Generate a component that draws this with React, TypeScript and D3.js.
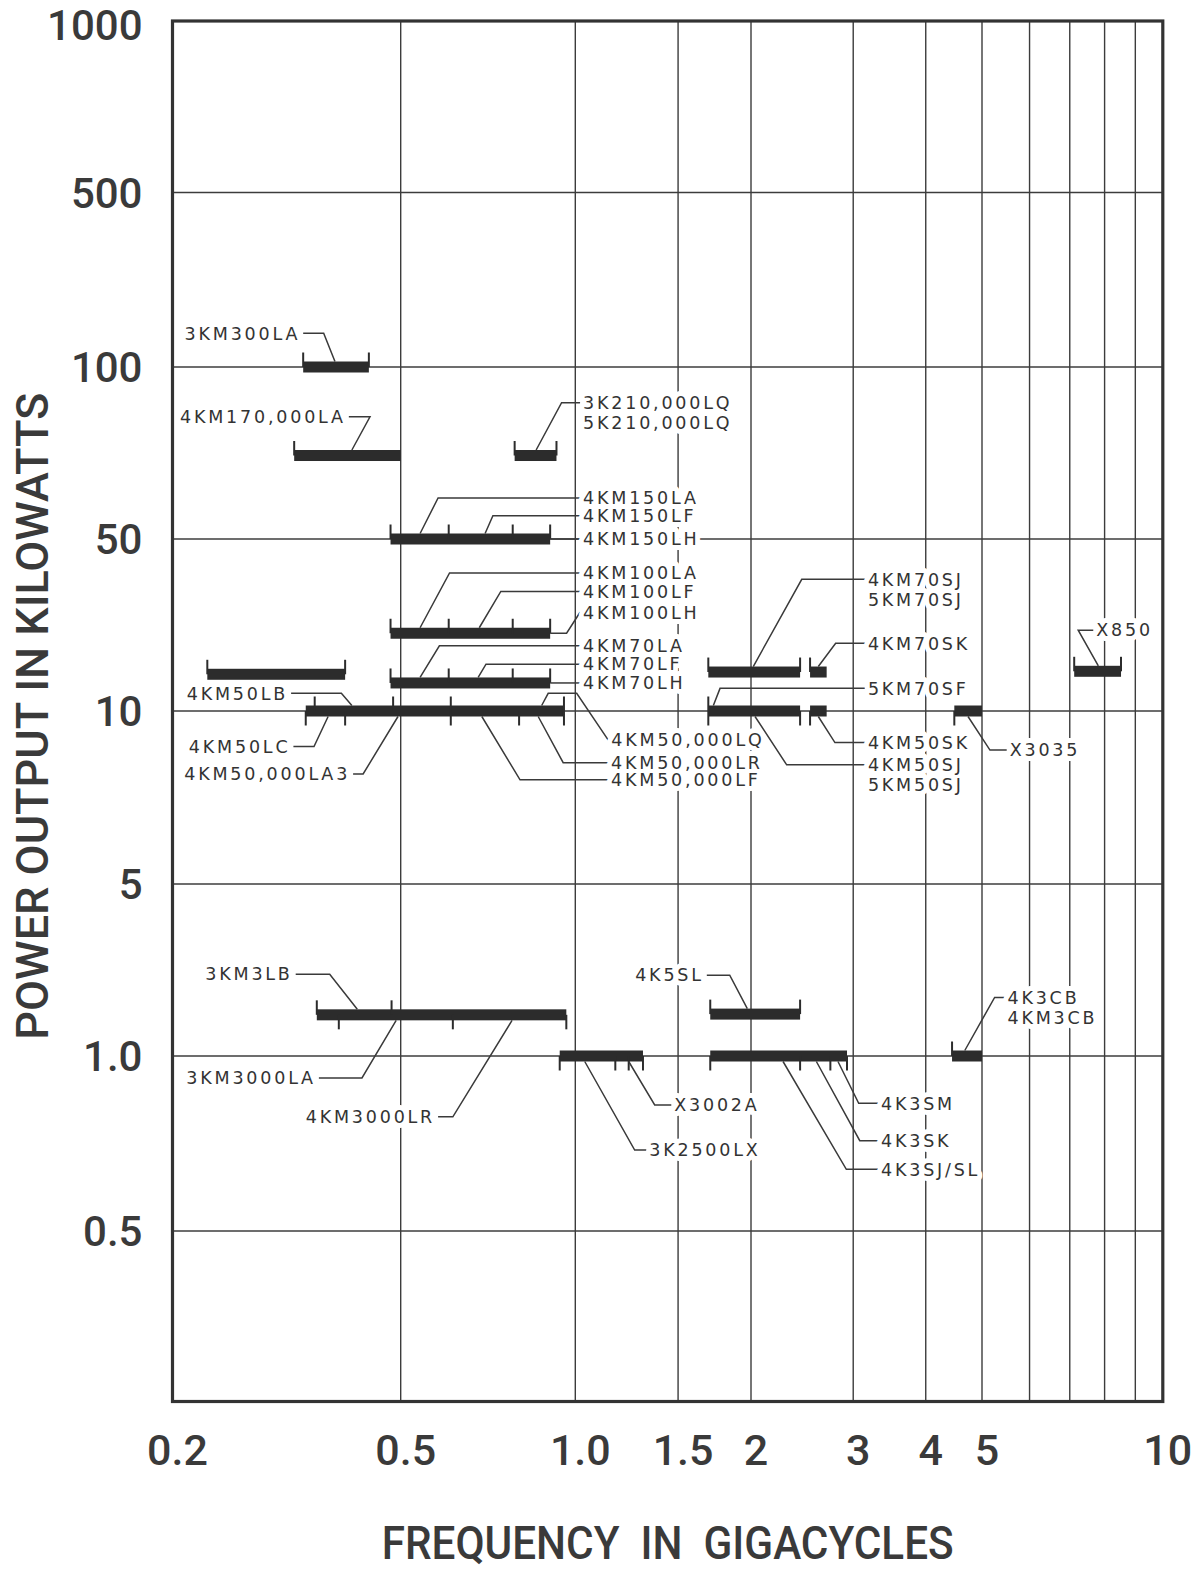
import React from 'react';
import * as d3 from 'd3';

// ---------- data ----------
const xDomain = [0.2, 0.5, 1, 2, 5, 10];
const yDomain = [0.1, 0.5, 1, 5, 10, 50, 100, 500, 1000];

const xGridValues = [0.5, 1, 1.5, 2, 3, 4, 5, 6, 7, 8, 9];
const yGridValues = [500, 100, 50, 10, 5, 1, 0.5];
const xTickValues = [0.2, 0.5, 1, 1.5, 2, 3, 4, 5, 10];
const xTickLabels = ['0.2', '0.5', '1.0', '1.5', '2', '3', '4', '5', '10'];
const yTickValues = [1000, 500, 100, 50, 10, 5, 1, 0.5];
const yTickLabels = ['1000', '500', '100', '50', '10', '5', '1.0', '0.5'];

const xTitle = 'FREQUENCY  IN  GIGACYCLES';
const yTitle = 'POWER OUTPUT IN KILOWATTS';

// tube bands: frequency range (GHz), power (kW), sub-range tick marks
const bars = [
  { f0: 0.338, f1: 0.44, p: 100, up: [0.338, 0.44], down: [] },
  { f0: 0.326, f1: 0.5, p: 70, up: [0.326], down: [] },
  { f0: 0.786, f1: 0.928, p: 70, up: [0.786, 0.928], down: [] },
  { f0: 0.48, f1: 0.905, p: 50, up: [0.48, 0.605, 0.78, 0.905], down: [] },
  { f0: 0.48, f1: 0.905, p: 20.7, up: [0.48, 0.605, 0.78, 0.905], down: [] },
  { f0: 0.48, f1: 0.905, p: 13, up: [0.48, 0.605, 0.78, 0.905], down: [] },
  { f0: 0.23, f1: 0.4, p: 14.1, up: [0.23, 0.4], down: [] },
  { f0: 0.3415, f1: 0.956, p: 10, up: [0.354, 0.485, 0.61, 0.956], down: [0.3415, 0.4, 0.61, 0.8, 0.956] },
  { f0: 1.69, f1: 2.43, p: 14.4, up: [1.69, 2.43], down: [] },
  { f0: 2.528, f1: 2.7, p: 14.4, up: [2.528], down: [] },
  { f0: 1.69, f1: 2.43, p: 10, up: [1.69], down: [1.69, 2.43] },
  { f0: 2.528, f1: 2.7, p: 10, up: [], down: [2.528] },
  { f0: 4.48, f1: 5.0, p: 10, up: [], down: [4.48] },
  { f0: 7.12, f1: 8.52, p: 14.5, up: [7.12, 8.52], down: [] },
  { f0: 0.357, f1: 0.965, p: 1.47, up: [0.357, 0.482], down: [0.39, 0.615, 0.965] },
  { f0: 0.94, f1: 1.306, p: 1, up: [], down: [0.94, 1.171, 1.2345, 1.306] },
  { f0: 1.703, f1: 2.43, p: 1.48, up: [1.703, 2.43], down: [] },
  { f0: 1.703, f1: 2.927, p: 1, up: [], down: [1.703, 2.43, 2.74, 2.927] },
  { f0: 4.44, f1: 5.0, p: 1, up: [4.44], down: [] },
];

// leader lines: attach point on a band [freq, power, side], path in data units, label text
const leaders = [
  { text: ['3KM300LA'], at: [0.384, 100, 'top'], path: [[0.367, 136.5], [0.338, 136.5]], anchor: 'end' },
  { text: ['4KM170,000LA'], at: [0.411, 70, 'top'], path: [[0.442, 81.8], [0.406, 81.8]], anchor: 'end' },
  { text: ['3K210,000LQ', '5K210,000LQ'], at: [0.856, 70, 'top'], path: [[0.947, 86.6], [1.019, 86.6]], anchor: 'start' },
  { text: ['4KM150LA'], at: [0.54, 50, 'top'], path: [[0.58, 59.0], [1.019, 59.0]], anchor: 'start' },
  { text: ['4KM150LF'], at: [0.699, 50, 'top'], path: [[0.721, 54.9], [1.019, 54.9]], anchor: 'start' },
  { text: ['4KM150LH'], at: [0.905, 50, 'mid'], path: [[1.019, 50]], anchor: 'start' },
  { text: ['4KM100LA'], at: [0.54, 20.7, 'top'], path: [[0.607, 36.4], [1.019, 36.4]], anchor: 'start' },
  { text: ['4KM100LF'], at: [0.683, 20.7, 'top'], path: [[0.744, 30.6], [1.019, 30.6]], anchor: 'start' },
  { text: ['4KM100LH'], at: [0.905, 20.7, 'mid'], path: [[0.966, 20.7], [1.019, 25.2]], anchor: 'start' },
  { text: ['4KM70LA'], at: [0.54, 13, 'top'], path: [[0.583, 18.4], [1.019, 18.4]], anchor: 'start' },
  { text: ['4KM70LF'], at: [0.68, 13, 'top'], path: [[0.7015, 15.5], [1.019, 15.5]], anchor: 'start' },
  { text: ['4KM70LH'], at: [0.905, 13, 'mid'], path: [[1.019, 13]], anchor: 'start' },
  { text: ['4KM50LB'], at: [0.411, 10, 'top'], path: [[0.394, 11.8], [0.322, 11.8]], anchor: 'end' },
  { text: ['4KM50LC'], at: [0.3736, 10, 'bottom'], path: [[0.353, 8.67], [0.325, 8.67]], anchor: 'end' },
  { text: ['4KM50,000LA3'], at: [0.4946, 10, 'bottom'], path: [[0.43, 7.77], [0.413, 7.77]], anchor: 'end' },
  { text: ['4KM50,000LQ'], at: [0.875, 10, 'top'], path: [[0.898, 11.8], [1.0055, 11.8], [1.139, 8.9]], anchor: 'start' },
  { text: ['4KM50,000LR'], at: [0.863, 10, 'bottom'], path: [[0.953, 8.13], [1.138, 8.13]], anchor: 'start' },
  { text: ['4KM50,000LF'], at: [0.69, 10, 'bottom'], path: [[0.803, 7.59], [1.138, 7.59]], anchor: 'start' },
  { text: ['4KM70SJ', '5KM70SJ'], at: [2.018, 14.4, 'top'], path: [[2.446, 34.3], [3.142, 34.3]], anchor: 'start' },
  { text: ['4KM70SK'], at: [2.612, 14.4, 'top'], path: [[2.798, 18.85], [3.142, 18.85]], anchor: 'start' },
  { text: ['5KM70SF'], at: [1.724, 10, 'top'], path: [[1.77, 12.36], [3.142, 12.36]], anchor: 'start' },
  { text: ['4KM50SK'], at: [2.612, 10, 'bottom'], path: [[2.79, 8.81], [3.142, 8.81]], anchor: 'start' },
  { text: ['4KM50SJ', '5KM50SJ'], at: [2.032, 10, 'bottom'], path: [[2.304, 8.06], [3.142, 8.06]], anchor: 'start' },
  { text: ['X3035'], at: [4.73, 10, 'bottom'], path: [[5.155, 8.55], [5.497, 8.55]], anchor: 'start' },
  { text: ['X850'], at: [7.81, 14.5, 'top'], path: [[7.23, 21.3], [7.66, 21.3]], anchor: 'start' },
  { text: ['3KM3LB'], at: [0.42, 1.47, 'top'], path: [[0.376, 2.15], [0.328, 2.15]], anchor: 'end' },
  { text: ['3KM3000LA'], at: [0.491, 1.47, 'bottom'], path: [[0.428, 0.9166], [0.36, 0.9166]], anchor: 'end' },
  { text: ['4KM3000LR'], at: [0.778, 1.47, 'bottom'], path: [[0.615, 0.786], [0.58, 0.786]], anchor: 'end' },
  { text: ['3K2500LX'], at: [1.038, 1, 'bottom'], path: [[1.264, 0.689], [1.323, 0.689]], anchor: 'start' },
  { text: ['X3002A'], at: [1.2345, 1, 'bottom'], path: [[1.3678, 0.8236], [1.4604, 0.8236]], anchor: 'start' },
  { text: ['4K5SL'], at: [1.971, 1.48, 'top'], path: [[1.839, 2.13], [1.68, 2.13]], anchor: 'end' },
  { text: ['4K3SJ/SL'], at: [2.271, 1, 'bottom'], path: [[2.919, 0.6383], [3.31, 0.6383]], anchor: 'start' },
  { text: ['4K3SK'], at: [2.592, 1, 'bottom'], path: [[3.079, 0.7149], [3.31, 0.7149]], anchor: 'start' },
  { text: ['4K3SM'], at: [2.824, 1, 'bottom'], path: [[3.066, 0.8291], [3.31, 0.8291]], anchor: 'start' },
  { text: ['4K3CB', '4KM3CB'], at: [4.67, 1, 'top'], path: [[5.248, 1.73], [5.45, 1.73]], anchor: 'start' },
];

// ---------- styling ----------
const INK = '#333';
const BAR_H = 11;
const TICK_LEN = 9;
const LABEL_FONT = "'DejaVu Sans', sans-serif";
const AXIS_FONT = "Roboto, 'Liberation Sans', sans-serif";

export default function App() {
  const x = d3.scaleLog().domain(xDomain).range([172.5, 400.7, 575.3, 751, 982, 1162.8]);
  const y = d3.scaleLog().domain(yDomain).range([1401.5, 1231, 1056, 884, 711, 539, 367, 192.5, 21]);
  const line = d3.line();

  const x0 = x(0.2), x1 = x(10), yTop = y(1000), yBot = y(0.1);

  const labelNodes = (knockout: boolean) =>
    leaders.map((l, i) => {
      const last = l.path[l.path.length - 1];
      const lx = x(last[0]) + (l.anchor === 'end' ? -3 : 3);
      const ly = y(last[1]);
      return (
        <text
          key={(knockout ? 'k' : 't') + i}
          textAnchor={l.anchor}
          fill={knockout ? '#fff' : '#333'}
          stroke={knockout ? '#fff' : 'none'}
          strokeWidth={knockout ? 10 : 0}
          strokeLinejoin="round"
        >
          {l.text.map((t, j) => (
            <tspan key={j} x={lx} y={ly + j * 20} dy="0.36em">{t}</tspan>
          ))}
        </text>
      );
    });

  return (
    <svg width={1200} height={1572} style={{ position: 'absolute', left: 0, top: 0, background: '#fff' }}>
      <rect x={0} y={0} width={1200} height={1572} fill="#fff" />
      {/* grid */}
      <g stroke="#3c3c3c" strokeWidth={1.4}>
        {xGridValues.map((v, i) => (
          <line key={'xg' + i} x1={x(v)} x2={x(v)} y1={yTop} y2={yBot} />
        ))}
        {yGridValues.map((v, i) => (
          <line key={'yg' + i} x1={x0} x2={x1} y1={y(v)} y2={y(v)} />
        ))}
      </g>
      {/* bars */}
      <g fill="#2c2c2c">
        {bars.map((b, i) => (
          <rect key={'b' + i} x={x(b.f0)} y={y(b.p) - BAR_H / 2} width={x(b.f1) - x(b.f0)} height={BAR_H} />
        ))}
      </g>
      <g stroke="#2c2c2c" strokeWidth={2}>
        {bars.map((b, i) => (
          <g key={'bt' + i}>
            {b.up.map((f, j) => (
              <line key={'u' + j} x1={x(f)} x2={x(f)} y1={y(b.p)} y2={y(b.p) - BAR_H / 2 - TICK_LEN} />
            ))}
            {b.down.map((f, j) => (
              <line key={'d' + j} x1={x(f)} x2={x(f)} y1={y(b.p)} y2={y(b.p) + BAR_H / 2 + TICK_LEN} />
            ))}
          </g>
        ))}
      </g>
      {/* leaders */}
      <g fill="none" stroke="#3a3a3a" strokeWidth={1.5}>
        {leaders.map((l, i) => {
          const [f, p, side] = l.at as [number, number, string];
          const off = side === 'top' ? -BAR_H / 2 : side === 'bottom' ? BAR_H / 2 : 0;
          const pts: [number, number][] = [[x(f), y(p) + off], ...l.path.map(([pf, pp]) => [x(pf), y(pp)] as [number, number])];
          return <path key={'l' + i} d={line(pts) || ''} />;
        })}
      </g>
      {/* labels: white knockout layer, then ink layer */}
      <g fontFamily={LABEL_FONT} fontSize={17.5} letterSpacing={2.8}>
        {labelNodes(true)}
        {labelNodes(false)}
      </g>
      {/* frame */}
      <rect x={x0} y={yTop} width={x1 - x0} height={yBot - yTop} fill="none" stroke={INK} strokeWidth={3.2} />
      {/* y tick labels */}
      <g fontFamily={AXIS_FONT} fontWeight={500} fontSize={42} fill="#3a3a3a" textAnchor="end">
        {yTickValues.map((v, i) => (
          <text key={'yt' + i} x={x0 - 30} y={Math.max(y(v) + 15, 40)}>{yTickLabels[i]}</text>
        ))}
      </g>
      {/* x tick labels */}
      <g fontFamily={AXIS_FONT} fontWeight={500} fontSize={43} fill="#3a3a3a" textAnchor="middle">
        {xTickValues.map((v, i) => (
          <text key={'xt' + i} x={x(v) + 5} y={yBot + 63}>{xTickLabels[i]}</text>
        ))}
      </g>
      {/* titles */}
      <text
        x={(x0 + x1) / 2}
        y={1559}
        fontFamily={AXIS_FONT}
        fontWeight={500}
        fontSize={47}
        fill="#3a3a3a"
        textAnchor="middle"
        textLength={572}
        lengthAdjust="spacingAndGlyphs"
        style={{ whiteSpace: 'pre' }}
      >
        {xTitle}
      </text>
      <text
        transform={`translate(${x0 - 125},${(yTop + yBot) / 2 + 5}) rotate(-90)`}
        fontFamily={AXIS_FONT}
        fontWeight={500}
        fontSize={44}
        fill="#3a3a3a"
        textAnchor="middle"
        textLength={647}
        lengthAdjust="spacingAndGlyphs"
      >
        {yTitle}
      </text>
    </svg>
  );
}
